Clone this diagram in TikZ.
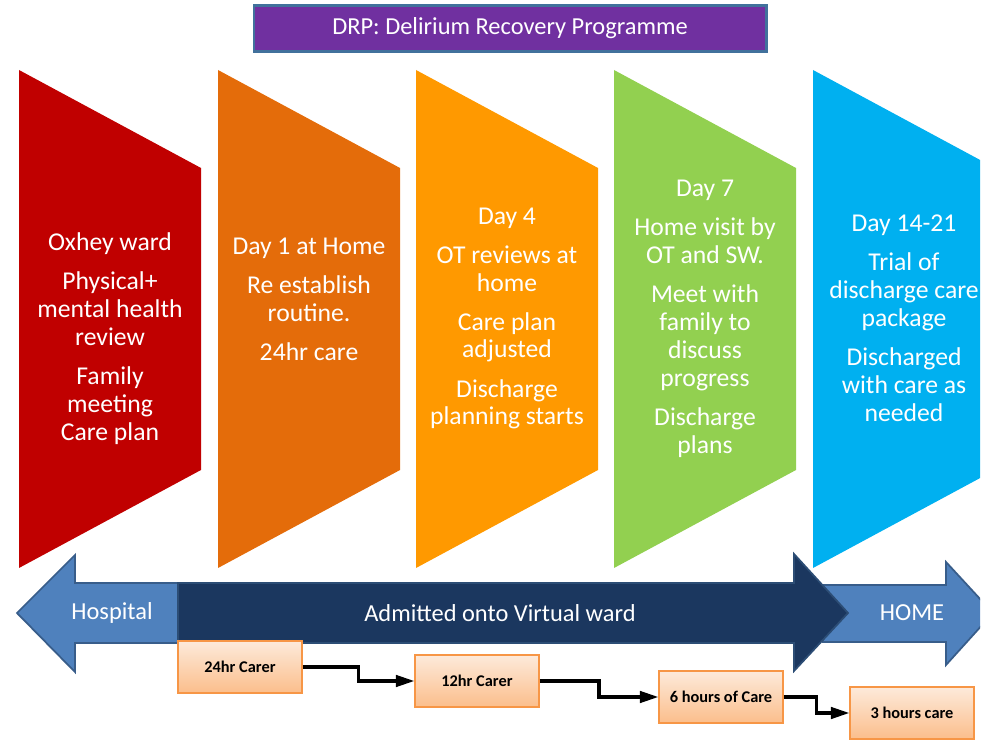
\documentclass[tikz,border=0pt]{standalone}
\usepackage{fontspec}
\setmainfont{Carlito}
\usetikzlibrary{calc,shadows,arrows.meta}

\definecolor{drpred}{HTML}{C00000}
\definecolor{drporange}{HTML}{E46C0A}
\definecolor{drpamber}{HTML}{FF9900}
\definecolor{drpgreen}{HTML}{92D050}
\definecolor{drpblue}{HTML}{00B0F0}
\definecolor{drppurple}{HTML}{7030A0}
\definecolor{titleedge}{HTML}{41719C}
\definecolor{wardlight}{HTML}{4F81BD}
\definecolor{wardlightedge}{HTML}{385D8A}
\definecolor{wardnavy}{HTML}{1B375F}
\definecolor{wardnavyedge}{HTML}{2C4D75}
\definecolor{caretop}{HTML}{FDEADA}
\definecolor{carebot}{HTML}{FBBE8C}
\definecolor{careedge}{HTML}{F79646}

% one coloured stage of the programme, left edge at #1
\newcommand{\stage}[2]{\fill[#2] (#1,70) -- ++(182,98) -- ++(0,302) -- ++(-182,98) -- cycle;}

\tikzset{
  stagetext/.style={text=white, align=center, inner sep=0pt,
    font=\fontsize{14.6}{15.9}\selectfont},
  wardtext/.style={text=white, font=\fontsize{13.9}{16}\selectfont},
  carebox/.style={draw=careedge, line width=0.7pt, top color=caretop, bottom color=carebot,
    minimum width=2.48cm, minimum height=1.04cm, inner sep=0pt,
    font=\bfseries\fontsize{9.3}{11}\selectfont,
    drop shadow={shadow xshift=0.6pt, shadow yshift=-0.6pt, opacity=0.25}},
  careflow/.style={line width=1.8pt, -{Triangle[length=10.5pt,width=6.5pt]}}
}

\begin{document}
\begin{tikzpicture}[x=0.02cm, y=-0.02cm]
  \useasboundingbox (0,0) rectangle (990,742);

\node[fill=drppurple, draw=titleedge, line width=1.2pt, minimum width=10.26cm, minimum height=0.92cm,
  text=white, font=\fontsize{13.9}{16}\selectfont] (title) at (510,28.5) {DRP: Delirium Recovery Programme};

\begin{scope}
\clip (0,0) rectangle (980,742);
\stage{19}{drpred}
\stage{218}{drporange}
\stage{416}{drpamber}
\stage{614}{drpgreen}
\stage{813}{drpblue}

\draw[fill=wardlight, draw=wardlightedge, line width=1pt]
(823,585) -- (946,585) -- (946,562) -- (993,613) -- (946,665) -- (946,642) -- (823,642) -- cycle;
\end{scope}

\draw[fill=wardlight, draw=wardlightedge, line width=1pt]
(178,583) -- (75,583) -- (75,555) -- (17,613) -- (75,672) -- (75,643) -- (178,643) -- cycle;
\draw[fill=wardnavy, draw=wardnavyedge, line width=1pt]
(178,583) -- (794,583) -- (794,554) -- (848,613) -- (794,671) -- (794,643) -- (178,643) -- cycle;

\node[stagetext] (oxhey) at (110,339) {Oxhey ward\\[6.3pt] Physical+\\ mental health\\ review\\[6.3pt] Family\\ meeting\\ Care plan};
\node[stagetext] (day1) at (309,299) {Day 1 at Home\\[6.3pt] Re establish\\ routine.\\[6.3pt] 24hr care};
\node[stagetext] (day4) at (507,318.5) {Day 4\\[6.3pt] OT reviews at\\ home\\[6.3pt] Care plan\\ adjusted\\[6.3pt] Discharge\\ planning starts};
\node[stagetext] (day7) at (705,319) {Day 7\\[6.3pt] Home visit by\\ OT and SW.\\[6.3pt] Meet with\\ family to\\ discuss\\ progress\\[6.3pt] Discharge\\ plans};
\node[stagetext] (day14) at (904,318) {Day 14-21\\[6.3pt] Trial of\\ discharge care\\ package\\[6.3pt] Discharged\\ with care as\\ needed};

\node[wardtext] (hospital) at (112,613) {Hospital};
\node[wardtext] (virtual) at (500,613) {Admitted onto Virtual ward};
\node[wardtext] (home) at (912,613) {HOME};

\node[carebox] (c24) at (240,667) {24hr Carer};
\node[carebox] (c12) at (477,681) {12hr Carer};
\node[carebox] (c6) at (721,697) {6 hours of Care};
\node[carebox] (c3) at (912,713) {3 hours care};

\draw[careflow] (c24.east) -| ($(c24.east)!.5!(c12.west)$) |- (c12.west);
\draw[careflow] (c12.east) -| ($(c12.east)!.5!(c6.west)$) |- (c6.west);
\draw[careflow] (c6.east) -| ($(c6.east)!.5!(c3.west)$) |- (c3.west);

\end{tikzpicture}
\end{document}
